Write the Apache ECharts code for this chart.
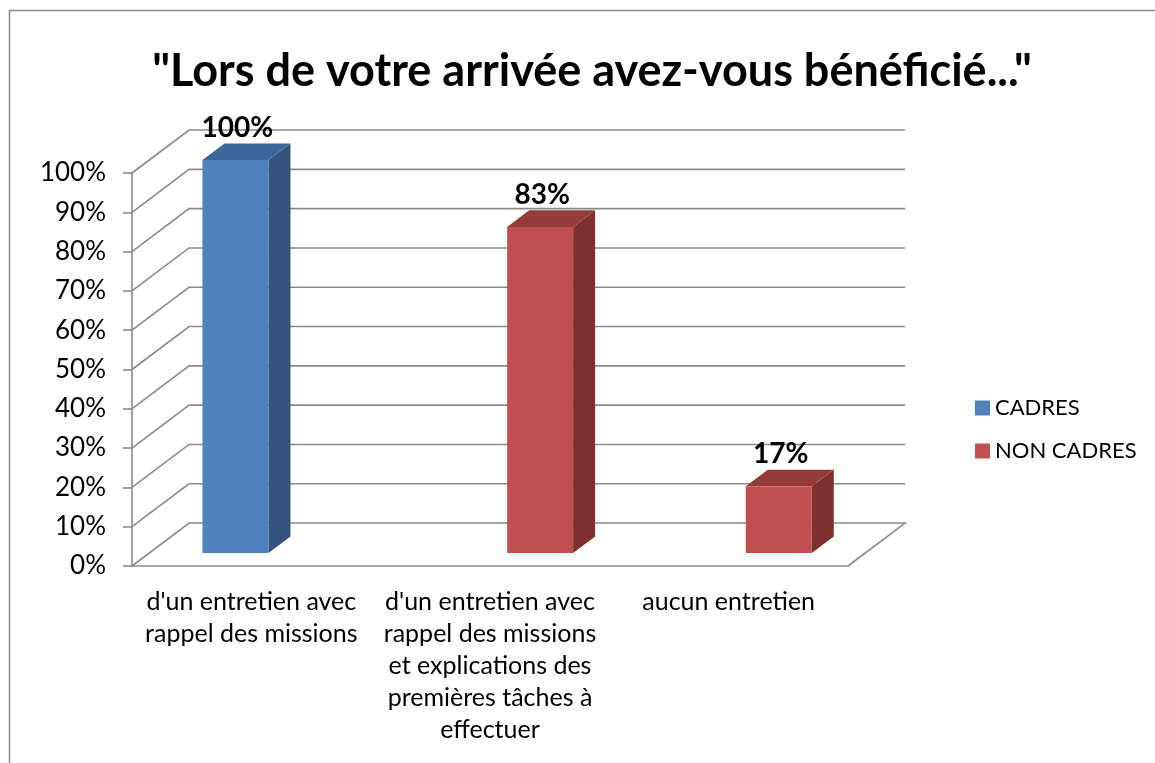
<!DOCTYPE html>
<html>
<head>
<meta charset="utf-8">
<script src="https://cdn.jsdelivr.net/npm/echarts@6/dist/echarts.min.js"></script>
<style>
  html, body { margin: 0; padding: 0; background: #fff; }
</style>
</head>
<body>
<div id="main" style="width: 1155px; height: 763px"></div>
<script>
// données du graphique
const categories = [
  "d'un entretien avec\nrappel des missions",
  "d'un entretien avec\nrappel des missions\net explications des\npremières tâches à\neffectuer",
  'aucun entretien'
]
const cadres = [100, null, null]
const nonCadres = [null, 83, 17]
const yTicks = [0, 10, 20, 30, 40, 50, 60, 70, 80, 90, 100]

const FONT = 'Lato, "Open Sans", sans-serif'
const GRID_COLOR = '#8a8a8a'

// profondeur de la "3D" en fraction de la largeur d'une catégorie
const DEPTH_X = 0.239
const DEPTH_Y = 0.18

function wallItem(params, api) {
  const v = api.value(1)
  const band = api.size([1, 0])[0]
  const c = api.coord([0, v])
  const x0 = c[0] - band / 2
  const y = c[1]
  const dx = band * DEPTH_X
  const dy = -band * DEPTH_Y
  const xEnd = x0 + band * categories.length
  const pts = [[x0, y], [x0 + dx, y + dy], [xEnd + dx, y + dy]]
  if (v === 0) pts.push([xEnd, y])
  return {
    type: 'polyline',
    shape: { points: pts },
    style: { stroke: GRID_COLOR, lineWidth: 1.6, fill: null }
  }
}

function barRenderer(seriesPos, colors) {
  return function(params, api) {
    const v = api.value(1)
    if (v == null || isNaN(v)) return null
    const i = api.value(0)
    const band = api.size([1, 0])[0]
    const base = api.coord([i, 0])
    const top = api.coord([i, v])
    const dx = band * DEPTH_X
    const dy = -band * DEPTH_Y
    const ox = dx * 0.3
    const oy = dy * 0.3
    const bw = band * 0.2765
    const bdx = dx * 0.386
    const bdy = dy * 0.386
    const left = base[0] + ox - (seriesPos === 0 ? bw : 0)
    const ty = top[1] + oy
    const by = base[1] + oy
    return {
      type: 'group',
      children: [
        {
          type: 'polygon',
          shape: { points: [[left + bw, ty], [left + bw + bdx, ty + bdy], [left + bw + bdx, by + bdy], [left + bw, by]] },
          style: { fill: colors.side }
        },
        {
          type: 'polygon',
          shape: { points: [[left, ty], [left + bw, ty], [left + bw + bdx, ty + bdy], [left + bdx, ty + bdy]] },
          style: { fill: colors.top }
        },
        {
          type: 'rect',
          shape: { x: left, y: ty, width: bw, height: by - ty },
          style: { fill: colors.front }
        },
        {
          type: 'text',
          x: left + bw / 2 + 2,
          y: ty - 18,
          style: {
            text: v + '%',
            font: 'bold 28px ' + FONT,
            fill: '#000',
            align: 'center',
            verticalAlign: 'bottom'
          }
        }
      ]
    }
  }
}

const blue = { front: '#4f81bd', top: '#3d659a', side: '#34537d' }
const red = { front: '#c0504d', top: '#933c39', side: '#7d302e' }

const myChart = echarts.init(document.getElementById('main'))
const option = {
  backgroundColor: '#fff',
  animation: false,
  textStyle: { fontFamily: FONT },
  title: {
    text: '"Lors de votre arrivée avez-vous bénéficié..."',
    left: 587,
    textAlign: 'center',
    top: 44,
    textStyle: { fontFamily: FONT, fontWeight: 'bold', fontSize: 45, color: '#000' }
  },
  graphic: [
    {
      type: 'rect',
      shape: { x: 9.5, y: 10.5, width: 1200, height: 800 },
      style: { fill: null, stroke: '#8a8a8a', lineWidth: 1.5 },
      silent: true
    }
  ],
  legend: {
    data: ['CADRES', 'NON CADRES'],
    orient: 'vertical',
    left: 970,
    top: 392,
    icon: 'rect',
    itemWidth: 15,
    itemHeight: 15,
    itemGap: 21,
    textStyle: { fontFamily: FONT, fontSize: 22, color: '#000' }
  },
  grid: { left: 132, right: 307, top: 173, bottom: 197 },
  xAxis: {
    type: 'category',
    data: categories,
    axisLine: { lineStyle: { color: GRID_COLOR, width: 1.6 } },
    axisTick: { length: 9, lineStyle: { color: GRID_COLOR, width: 1.6 } },
    axisLabel: { interval: 0, margin: 20, fontSize: 25, lineHeight: 32, color: '#000', fontFamily: FONT },
    splitLine: { show: false }
  },
  yAxis: {
    type: 'value',
    min: 0,
    max: 100,
    interval: 10,
    axisLine: { show: true, lineStyle: { color: GRID_COLOR, width: 1.6 } },
    axisTick: { show: true, length: 9, lineStyle: { color: GRID_COLOR, width: 1.6 } },
    axisLabel: { formatter: '{value}%', margin: 26, fontSize: 26, color: '#000', fontFamily: FONT },
    splitLine: { show: false }
  },
  series: [
    {
      type: 'custom',
      name: 'walls',
      z: 1,
      silent: true,
      renderItem: wallItem,
      data: yTicks.map(v => [0, v])
    },
    {
      type: 'custom',
      name: 'CADRES',
      z: 3,
      itemStyle: { color: blue.front },
      renderItem: barRenderer(0, blue),
      data: cadres.map((v, i) => [i, v == null ? '-' : v])
    },
    {
      type: 'custom',
      name: 'NON CADRES',
      z: 3,
      itemStyle: { color: red.front },
      renderItem: barRenderer(1, red),
      data: nonCadres.map((v, i) => [i, v == null ? '-' : v])
    }
  ]
}
myChart.setOption(option)
</script>
</body>
</html>
